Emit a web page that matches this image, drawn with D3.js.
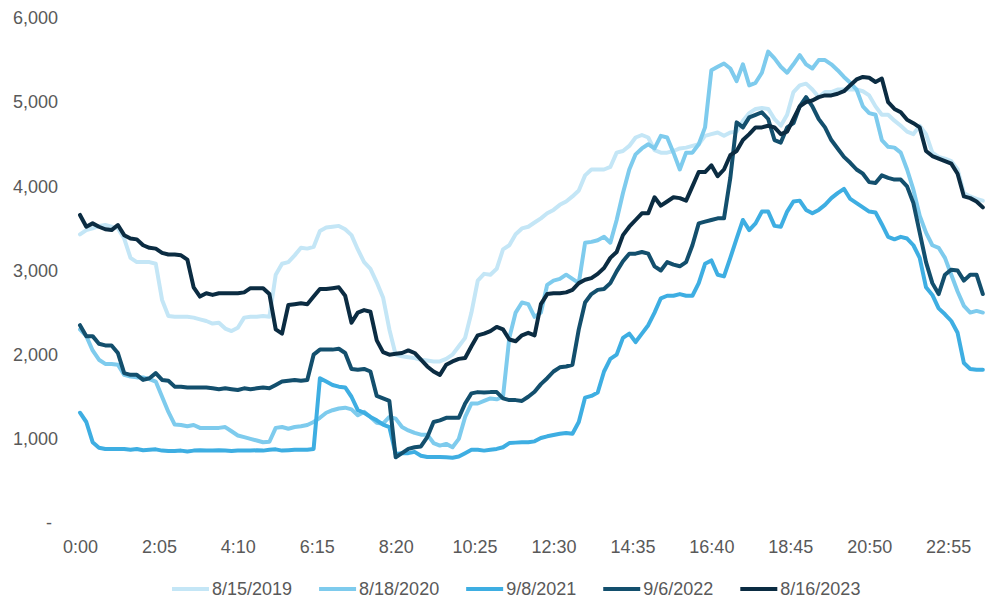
<!DOCTYPE html>
<html>
<head>
<meta charset="utf-8">
<script src="https://cdn.jsdelivr.net/npm/d3@7"></script>
<style>
  html, body { margin: 0; padding: 0; background: #fff; }
  svg { display: block; font-family: "Liberation Sans", Arial, sans-serif; }
</style>
</head>
<body>
<svg id="chart" width="985" height="602"></svg>
<script>
// Load profile samples every 10 minutes, 0:00 to 23:50
const stepMinutes = 10;

const seriesNames = ["8/15/2019", "8/18/2020", "9/8/2021", "9/6/2022", "8/16/2023"];
const seriesColors = ["#c4e6f6", "#7ecbed", "#3eaee2", "#134f6d", "#0b2c42"];

const tickLabels = ["0:00", "2:05", "4:10", "6:15", "8:20", "10:25", "12:30", "14:35", "16:40", "18:45", "20:50", "22:55"];
const yTicks = [0, 1000, 2000, 3000, 4000, 5000, 6000];

const load2019 = [
  3430, 3480, 3500, 3530, 3540, 3520,
  3500, 3380, 3150, 3100, 3100, 3100,
  3080, 2650, 2460, 2450, 2450, 2450,
  2440, 2420, 2400, 2370, 2380, 2310,
  2280, 2320, 2440, 2450, 2450, 2460,
  2450, 2950, 3080, 3100, 3180, 3270,
  3260, 3280, 3470, 3510, 3520, 3530,
  3490, 3420, 3250, 3100, 3020, 2860,
  2680, 2300, 2000, 1980, 1970, 1960,
  1940, 1930, 1920, 1920, 1950, 2000,
  2100, 2200, 2500, 2880, 2960, 2950,
  3020, 3250, 3300, 3430, 3500, 3520,
  3570, 3620, 3680, 3720, 3780, 3820,
  3880, 3950, 4130, 4200, 4200, 4200,
  4230, 4400, 4420, 4480, 4580, 4610,
  4580, 4430, 4400, 4400, 4420, 4450,
  4460, 4480, 4500, 4600, 4620, 4640,
  4600, 4640, 4650, 4780, 4870, 4920,
  4930, 4920, 4800, 4720, 4850, 5120,
  5200, 5220, 5150, 5060, 5120, 5120,
  5150, 5150, 5150, 5150, 5130, 5080,
  4950, 4850, 4850, 4780, 4720, 4650,
  4620, 4720, 4620, 4400, 4350, 4330,
  4300, 4200, 3920, 3880, 3850, 3830
];

const load2020 = [
  2300, 2220, 2050, 1940, 1890, 1890,
  1880, 1760, 1740, 1730, 1730, 1710,
  1680, 1500, 1320, 1170, 1165, 1150,
  1165, 1130, 1130, 1130, 1130, 1140,
  1090, 1040, 1020, 1000, 980, 960,
  965, 1130, 1140, 1120, 1140, 1150,
  1165, 1200, 1250, 1310, 1340, 1360,
  1370, 1350, 1280, 1320, 1260, 1190,
  1180, 1260, 1240, 1140, 1100, 1070,
  1050, 1050, 950, 920, 940, 900,
  1000, 1260, 1420, 1420, 1450, 1480,
  1470, 1500, 2200, 2500, 2620, 2600,
  2450, 2500, 2830, 2880, 2900, 2950,
  2900, 2850, 3330, 3340, 3360, 3400,
  3330, 3600, 3920, 4200, 4380, 4450,
  4500, 4450, 4600, 4580, 4400, 4200,
  4400, 4400, 4500, 4700, 5380, 5420,
  5460, 5400, 5250, 5450, 5200, 5230,
  5350, 5600, 5520, 5420, 5350, 5450,
  5560, 5450, 5400, 5500, 5500, 5450,
  5380, 5300, 5230, 5150, 4950, 4870,
  4850, 4550, 4470, 4460, 4400, 4200,
  3960, 3650, 3450, 3300, 3270, 3150,
  2950, 2750, 2580, 2500, 2520, 2500
];

const load2021 = [
  1310, 1200, 960, 895, 880, 880,
  880, 880, 870, 880, 865, 870,
  875, 860, 855, 855, 860, 850,
  860, 865, 860, 860, 865, 862,
  855, 860, 860, 860, 865, 860,
  870, 875, 860, 865, 870, 870,
  870, 880, 1720, 1680, 1640, 1620,
  1610, 1500, 1340, 1310, 1260, 1220,
  1170, 1140, 820, 830, 830, 845,
  800, 785, 785, 785, 780, 775,
  790, 830, 870, 870, 860, 870,
  880, 900, 950, 955, 960, 960,
  970, 1010, 1030, 1045, 1060, 1070,
  1060, 1200, 1490, 1510, 1550, 1800,
  1950, 2000, 2200, 2250, 2150, 2250,
  2350, 2500, 2670, 2700, 2700, 2720,
  2700, 2700, 2850, 3080, 3120, 2950,
  2930, 3150, 3380, 3600, 3480, 3560,
  3700, 3700, 3530, 3520, 3700, 3820,
  3830, 3720, 3680, 3720, 3780, 3860,
  3920, 3970, 3850, 3800, 3750, 3700,
  3690, 3550, 3400, 3370, 3400, 3380,
  3300, 3150, 2800, 2710, 2550, 2480,
  2400, 2260, 1900, 1830, 1820, 1820
];

const load2022 = [
  2350, 2220, 2220, 2130, 2110, 2110,
  2020, 1780, 1760, 1760, 1700, 1720,
  1780, 1700, 1690, 1620, 1620, 1610,
  1610, 1610, 1610, 1600, 1590, 1600,
  1590, 1580, 1600, 1590, 1600, 1610,
  1600, 1640, 1680, 1690, 1700, 1690,
  1700, 2000, 2060, 2060, 2060, 2070,
  2020, 1830, 1820, 1830, 1800, 1510,
  1480, 1450, 780, 830, 880, 900,
  910, 1020, 1200, 1220, 1250, 1250,
  1250, 1420, 1540, 1555, 1550, 1555,
  1555, 1480, 1460, 1460, 1450, 1500,
  1560, 1650, 1720, 1800, 1850, 1860,
  1880, 2300, 2620, 2720, 2770, 2780,
  2850, 2990, 3110, 3200, 3200, 3220,
  3200, 3050, 3000, 3100, 3070, 3050,
  3100, 3300, 3560, 3580, 3600, 3620,
  3620, 4100, 4760, 4700, 4820, 4850,
  4880, 4800, 4550, 4520, 4700, 4750,
  4950, 5060, 4950, 4800, 4700, 4550,
  4450, 4350, 4280, 4200, 4150, 4050,
  4040, 4130, 4100, 4080, 4080, 4000,
  3800, 3450, 3100, 2850, 2720, 2950,
  3010, 3000, 2880, 2950, 2950, 2720
];

const load2023 = [
  3660, 3520, 3560, 3520, 3490, 3480,
  3540, 3420, 3380, 3370, 3300, 3270,
  3260, 3210, 3190, 3190, 3180, 3130,
  2800, 2690, 2730, 2710, 2730, 2730,
  2730, 2730, 2740, 2790, 2790, 2790,
  2720, 2300, 2250, 2590, 2600, 2610,
  2600, 2690, 2780, 2780, 2790, 2800,
  2700, 2380, 2500, 2530, 2510, 2170,
  2030, 2000, 2010, 2020, 2050, 2020,
  1940, 1860, 1800, 1760, 1880, 1920,
  1950, 1960, 2100, 2230, 2250, 2280,
  2330, 2300, 2180, 2160, 2230, 2260,
  2230, 2600, 2720, 2730, 2730, 2740,
  2770, 2850, 2890, 2910, 2960, 3030,
  3150, 3220, 3420, 3520, 3600, 3680,
  3680, 3870, 3770, 3820, 3870, 3860,
  3830, 4000, 4170, 4170, 4250, 4120,
  4200, 4370, 4420, 4550, 4620, 4700,
  4700, 4720, 4700, 4620, 4650, 4800,
  4950, 5000, 5020, 5060, 5080, 5080,
  5100, 5130, 5200, 5270, 5300, 5290,
  5240, 5280, 5000, 4920, 4880, 4790,
  4750, 4700, 4420, 4360, 4330, 4300,
  4270, 4150, 3880, 3860, 3820, 3750
];

const seriesValues = [load2019, load2020, load2021, load2022, load2023];

// ---- layout ----
const svg = d3.select("#chart");
const margin = { left: 80, right: 0, top: 18, bottom: 79 };
const W = 985, H = 602;
const textColor = "#595959";
const fontSize = 18;

const x = d3.scaleLinear()
  .domain([0, 1435])
  .range([margin.left, W - margin.right + 1]);

const y = d3.scaleLinear()
  .domain([0, 6000])
  .range([H - margin.bottom, margin.top]);

// y axis labels (no line, no ticks)
const yAxis = d3.axisLeft(y)
  .tickValues(yTicks)
  .tickSize(0)
  .tickPadding(0)
  .tickFormat(d => d === 0 ? "-" : d3.format(",")(d));

const gy = svg.append("g")
  .attr("transform", `translate(58,0)`)
  .call(yAxis);
gy.select(".domain").remove();
gy.selectAll("text")
  .attr("fill", textColor)
  .style("font-size", fontSize + "px")
  .style("font-family", "'Liberation Sans', Arial, sans-serif");
gy.selectAll("text").filter(d => d === 0).attr("dx", "-6");

// x axis labels every 125 minutes
const xAxis = d3.axisBottom(x)
  .tickValues(tickLabels.map((_, i) => i * 125))
  .tickSize(0)
  .tickPadding(0)
  .tickFormat((d, i) => tickLabels[i]);

const gx = svg.append("g")
  .attr("transform", `translate(0,540)`)
  .call(xAxis);
gx.select(".domain").remove();
gx.selectAll("text")
  .attr("fill", textColor)
  .attr("dy", "0.71em")
  .style("font-size", fontSize + "px")
  .style("font-family", "'Liberation Sans', Arial, sans-serif");

// lines
const line = d3.line()
  .x((d, i) => x(i * stepMinutes))
  .y(d => y(d))
  .curve(d3.curveLinear);

svg.append("g")
  .selectAll("path")
  .data(seriesValues)
  .join("path")
  .attr("d", d => line(d))
  .attr("fill", "none")
  .attr("stroke", (d, i) => seriesColors[i])
  .attr("stroke-width", 4)
  .attr("stroke-linejoin", "round")
  .attr("stroke-linecap", "round");

// legend
const legend = svg.append("g").attr("transform", "translate(0,589)");
let lx = 172;
seriesNames.forEach((name, i) => {
  const g = legend.append("g").attr("transform", `translate(${lx},0)`);
  g.append("line")
    .attr("x1", 0).attr("x2", 37)
    .attr("y1", 0).attr("y2", 0)
    .attr("stroke", seriesColors[i])
    .attr("stroke-width", 4);
  const t = g.append("text")
    .attr("x", 40)
    .attr("y", 0)
    .attr("dy", "0.35em")
    .attr("fill", textColor)
    .style("font-size", fontSize + "px")
    .text(name);
  lx += 40 + t.node().getComputedTextLength() + 27;
});
</script>
</body>
</html>
